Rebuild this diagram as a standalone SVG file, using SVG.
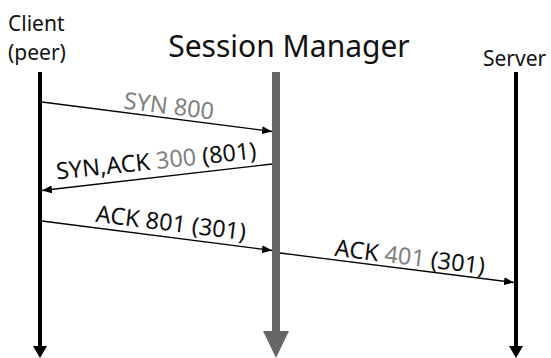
<svg xmlns="http://www.w3.org/2000/svg" width="551" height="358" viewBox="0 0 551 358">
<style>
text{font-family:"Noto Sans","Open Sans",sans-serif;fill:#111}
.ttl{font-size:21px}
.big{font-size:30px}
.lbl{font-size:23.5px;text-anchor:middle}
.g{fill:#808080}
.msg{stroke:#000;stroke-width:1.3;fill:none;marker-end:url(#ah)}
.life{stroke:#000;stroke-width:4}
</style>
<defs>
<marker id="ah" viewBox="0 0 10 8" refX="10" refY="4" markerWidth="10" markerHeight="8" markerUnits="userSpaceOnUse" orient="auto">
<path d="M0,0 L10,4 L0,8 Z" fill="#000"/>
</marker>
</defs>
<rect width="551" height="358" fill="#fff"/>
<g id="client">
<text class="ttl" x="8" y="31">Client</text>
<text class="ttl" x="8" y="60">(peer)</text>
<line class="life" x1="40" y1="72" x2="40" y2="347"/>
<path d="M33,346 L47,346 L40,358 Z" fill="#000"/>
</g>
<g id="session-manager">
<text class="big" x="289" y="57" text-anchor="middle">Session Manager</text>
<rect x="272" y="72" width="8" height="260" fill="#666"/>
<path d="M263,331 L289,331 L276,358 Z" fill="#666"/>
</g>
<g id="server">
<text class="ttl" x="483" y="66">Server</text>
<line class="life" x1="516" y1="72" x2="516" y2="347"/>
<path d="M509,346 L523,346 L516,358 Z" fill="#000"/>
</g>
<g id="connectors">
<line class="msg" x1="42" y1="102" x2="272" y2="131.5"/>
<line class="msg" x1="272" y1="164" x2="42" y2="190.5"/>
<line class="msg" x1="42" y1="221" x2="272" y2="250.5"/>
<line class="msg" x1="280" y1="253" x2="514" y2="282.5"/>
<text class="lbl g" transform="translate(168,114) rotate(7)">SYN 800</text>
<text class="lbl" transform="translate(157,169) rotate(-6)">SYN,ACK <tspan class="g">300</tspan> (801)</text>
<text class="lbl" transform="translate(170,231) rotate(7)">ACK 801 (301)</text>
<text class="lbl" transform="translate(409,265) rotate(7)">ACK <tspan class="g">401</tspan> (301)</text>
</g>
</svg>
